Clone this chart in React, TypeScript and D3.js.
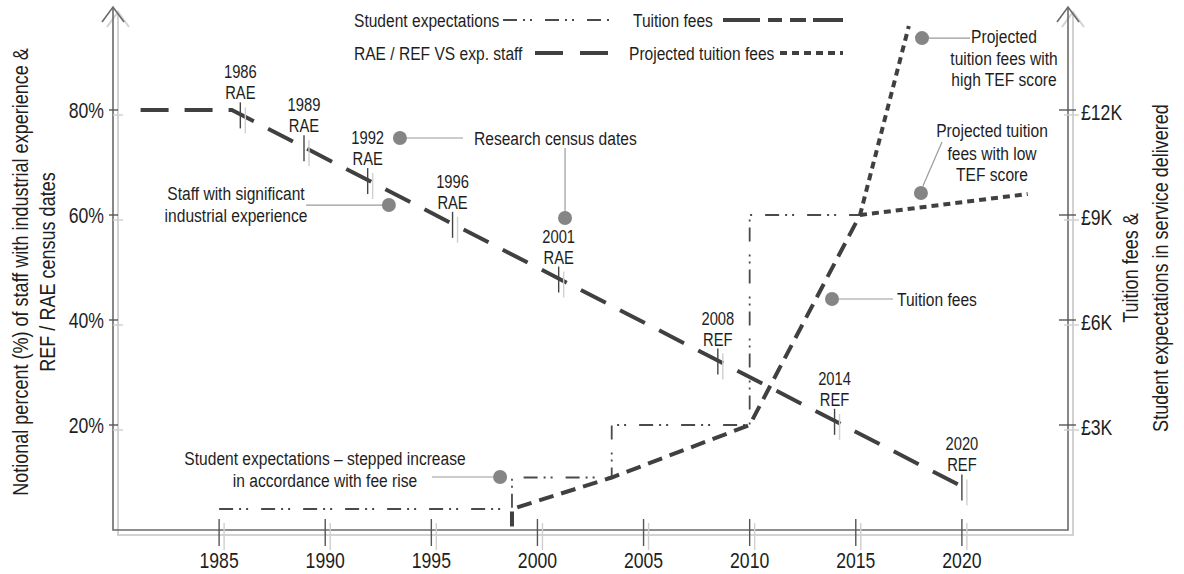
import React, { useEffect, useRef } from 'react';
import * as d3 from 'd3';

// staff with industrial experience (% of staff)
const staffYears = [1981.3, 1985.6, 2019.9];
const staffPct = [80, 80, 8.5];

// tuition fees (£)
const tuitionYears = [1998.8, 1998.8, 2003.5, 2010, 2015.2];
const tuitionFees = [100, 600, 1500, 3000, 9000];

// projected tuition fees (£)
const highTefYears = [2015.2, 2017.5];
const highTefFees = [9000, 14400];
const lowTefYears = [2015.2, 2023.1];
const lowTefFees = [9000, 9600];

// student expectations (stepped, £ equivalent)
const expectYears = [1985, 1998.8, 2003.5, 2010, 2015.2];
const expectFees = [600, 1500, 3000, 9000, 9000];

// research census dates
const censusYears = [1986, 1989, 1992, 1996, 2001, 2008.5, 2014, 2020];
const censusNames = ['1986', '1989', '1992', '1996', '2001', '2008', '2014', '2020'];
const censusKinds = ['RAE', 'RAE', 'RAE', 'RAE', 'RAE', 'REF', 'REF', 'REF'];

const yearTicks = [1985, 1990, 1995, 2000, 2005, 2010, 2015, 2020];
const pctTicks = [20, 40, 60, 80];
const feeTicks = [3000, 6000, 9000, 12000];
const feeLabels = ['£3K', '£6K', '£9K', '£12K'];

const FONT = '"Liberation Sans", Arial, sans-serif';
const NARROW = 0.82; // squeeze Liberation Sans to look like Arial Narrow
const INK = '#1e1e1e';
const LINE = '#404040';
const DOT = '#858585';
const LEAD = '#9a9a9a';

const STAFF_DASH = '28,16';
const FEE_DASH = '15,8';
const PROJ_DASH = '7,5';
const EXP_DASH = '14,6,2,5,2,13';

const App: React.FC = () => {
  const ref = useRef<SVGSVGElement>(null);

  useEffect(() => {
    if (!ref.current) return;
    const svg = d3.select(ref.current);
    svg.selectAll('*').remove();

    const x = d3.scaleLinear().domain([1980, 2025]).range([113, 1068]);
    const yPct = d3.scaleLinear().domain([0, 100]).range([530, 5]);
    const yFee = d3.scaleLinear().domain([0, 15000]).range([530, 5]);
    const x0 = x(1980), x1 = x(2025), yb = yPct(0), yt = 7;

    // narrow text block: lines placed at y offsets relative to (tx, ty)
    const text = (tx: number, ty: number, lines: string[], size: number, offs: number[],
      anchor = 'start', rotate = '', dy = '0') => {
      const t = svg.append('text')
        .attr('transform', `translate(${tx},${ty})${rotate} scale(${NARROW},1)`)
        .attr('text-anchor', anchor).style('font-family', FONT)
        .style('font-size', `${size}px`).attr('fill', INK);
      lines.forEach((l, i) => t.append('tspan').attr('x', 0).attr('y', offs[i]).attr('dy', dy).text(l));
      return t;
    };

    // frame + arrows (light shadow first, then dark)
    const frame = (dx: number, dy: number, color: string, w: number) => {
      const g = svg.append('g').attr('fill', 'none').attr('stroke', color).attr('stroke-width', w);
      g.append('path').attr('d', `M${x0 + dx},${yt + dy}V${yb + dy}H${x1 + dx}V${yt + dy}`);
      [x0, x1].forEach(ax => {
        g.append('path').attr('d', `M${ax + dx - 11},${yt + dy + 15}L${ax + dx},${yt + dy}L${ax + dx + 11},${yt + dy + 15}`);
      });
    };
    frame(5, 5, '#d2d2d2', 2);
    frame(0, 0, '#6a6a6a', 1.6);

    // x ticks
    yearTicks.forEach(t => {
      svg.append('line').attr('x1', x(t) + 5).attr('x2', x(t) + 5).attr('y1', yb - 7).attr('y2', yb + 20)
        .attr('stroke', '#cfcfcf').attr('stroke-width', 1.4);
      svg.append('line').attr('x1', x(t)).attr('x2', x(t)).attr('y1', yb - 11).attr('y2', yb + 16)
        .attr('stroke', '#555').attr('stroke-width', 1.4);
      text(x(t), 568, [String(t)], 21.5, [0], 'middle');
    });

    // left ticks
    pctTicks.forEach(t => {
      svg.append('line').attr('x1', x0).attr('x2', x0 + 10).attr('y1', yPct(t) + 5).attr('y2', yPct(t) + 5)
        .attr('stroke', '#cfcfcf').attr('stroke-width', 1.4);
      svg.append('line').attr('x1', x0 - 4).attr('x2', x0 + 5).attr('y1', yPct(t)).attr('y2', yPct(t))
        .attr('stroke', '#555').attr('stroke-width', 1.4);
      text(x0 - 9, yPct(t), [`${t}%`], 21.5, [0], 'end', '', '0.36em');
    });

    // right ticks
    feeTicks.forEach((t, i) => {
      svg.append('line').attr('x1', x1 - 4).attr('x2', x1 + 11).attr('y1', yFee(t) + 5).attr('y2', yFee(t) + 5)
        .attr('stroke', '#cfcfcf').attr('stroke-width', 1.4);
      svg.append('line').attr('x1', x1 - 9).attr('x2', x1 + 8).attr('y1', yFee(t)).attr('y2', yFee(t))
        .attr('stroke', '#555').attr('stroke-width', 1.4);
      text(x1 + 13, yFee(t) + 2, [feeLabels[i]], 21.5, [0], 'start', '', '0.36em');
    });

    // axis titles
    text(28, 272, ['Notional percent (%) of staff with industrial experience &', 'REF / RAE census dates'],
      22, [0, 27], 'middle', ' rotate(-90)');
    text(1138, 268, ['Tuition fees &', 'Student expectations in service delivered'],
      22, [0, 30], 'middle', ' rotate(-90)');

    // series
    const pts = (xs: number[], ys: number[]) => xs.map((v, i) => [v, ys[i]] as [number, number]);
    const pctLine = d3.line<[number, number]>().x(d => x(d[0])).y(d => yPct(d[1]));
    const feeLine = d3.line<[number, number]>().x(d => x(d[0])).y(d => yFee(d[1]));
    const stepLine = d3.line<[number, number]>().x(d => x(d[0])).y(d => yFee(d[1])).curve(d3.curveStepAfter);

    const draw = (d: string | null, w: number, dash: string, color = LINE) =>
      svg.append('path').attr('d', d).attr('fill', 'none').attr('stroke', color)
        .attr('stroke-width', w).attr('stroke-dasharray', dash);

    draw(stepLine(pts(expectYears, expectFees)), 1.8, EXP_DASH, '#4a4a4a');
    draw(pctLine(pts(staffYears, staffPct)), 4, STAFF_DASH);
    draw(feeLine(pts(tuitionYears, tuitionFees)), 4, FEE_DASH);
    draw(feeLine(pts(highTefYears, highTefFees)), 4, PROJ_DASH);
    draw(feeLine(pts(lowTefYears, lowTefFees)), 4, PROJ_DASH);

    // census markers
    const staffAt = d3.scaleLinear().domain(staffYears).range(staffPct);
    censusYears.forEach((yr, i) => {
      const cx = x(yr), cy = yPct(staffAt(yr));
      svg.append('line').attr('x1', cx + 5).attr('x2', cx + 5).attr('y1', cy - 7).attr('y2', cy + 19)
        .attr('stroke', '#cfcfcf').attr('stroke-width', 1.4);
      svg.append('line').attr('x1', cx).attr('x2', cx).attr('y1', cy - 12).attr('y2', cy + 14)
        .attr('stroke', '#444').attr('stroke-width', 1.4);
      text(cx, cy - 36, [censusNames[i], censusKinds[i]], 18, [0, 21], 'middle');
    });

    // annotations
    const lead = (ax: number, ay: number, bx: number, by: number) =>
      svg.append('line').attr('x1', ax).attr('y1', ay).attr('x2', bx).attr('y2', by)
        .attr('stroke', LEAD).attr('stroke-width', 1.2);
    const dot = (cx: number, cy: number) =>
      svg.append('circle').attr('cx', cx).attr('cy', cy).attr('r', 7).attr('fill', DOT);

    // research census dates
    const rc1 = [x(1993.52), yPct(74.67)], rc2 = [x(2001.3), yPct(59.43)];
    lead(rc1[0], rc1[1], 463, rc1[1]);
    lead(rc2[0], 148, rc2[0], rc2[1]);
    dot(rc1[0], rc1[1]); dot(rc2[0], rc2[1]);
    text(474, rc1[1] + 7, ['Research census dates'], 19, [0]);

    // staff
    const sf = [x(1993.0), yPct(61.9)];
    lead(306, sf[1], sf[0], sf[1]);
    dot(sf[0], sf[1]);
    text(236, 200, ['Staff with significant', 'industrial experience'], 19, [0, 22], 'middle');

    // student expectations
    const se = [x(1998.24), yPct(10.1)];
    lead(432, se[1], se[0], se[1]);
    dot(se[0], se[1]);
    text(325, 465, ['Student expectations – stepped increase', 'in accordance with fee rise'], 19, [0, 22], 'middle');

    // tuition fees
    const tf = [x(2013.88), yPct(44.0)];
    lead(tf[0], tf[1], 893, tf[1]);
    dot(tf[0], tf[1]);
    text(897, tf[1] + 7, ['Tuition fees'], 19, [0]);

    // high TEF
    const ht = [x(2018.12), yPct(93.7)];
    lead(ht[0], ht[1], 970, ht[1]);
    dot(ht[0], ht[1]);
    text(1004, 43, ['Projected', 'tuition fees with', 'high TEF score'], 19, [0, 22, 43], 'middle');

    // low TEF
    const lt = [x(2018.07), yPct(64.2)];
    lead(lt[0] + 2, lt[1] - 7, 942, 142);
    dot(lt[0], lt[1]);
    text(992, 137, ['Projected tuition', 'fees with low', 'TEF score'], 19, [0, 23, 44], 'middle');

    // legend
    const leg = (tx: number, ty: number, label: string, lx0: number, lx1: number, w: number, dash: string, color = LINE) => {
      text(tx, ty, [label], 19, [0], 'start', '', '0.36em');
      svg.append('line').attr('x1', lx0).attr('x2', lx1).attr('y1', ty).attr('y2', ty)
        .attr('stroke', color).attr('stroke-width', w).attr('stroke-dasharray', dash);
    };
    leg(354, 20, 'Student expectations', 503, 610, 1.8, EXP_DASH, '#4a4a4a');
    leg(633, 20, 'Tuition fees', 723, 843, 4, '37,8,14,8,16,7,30');
    leg(354, 53, 'RAE / REF VS exp. staff', 535, 608, 4, '28,17');
    leg(629, 53, 'Projected tuition fees', 780, 843, 4, PROJ_DASH);
  }, []);

  return (
    <svg ref={ref} width={1184} height={574}
      style={{ position: 'absolute', left: 0, top: 0, display: 'block', background: '#fff' }} />
  );
};

export default App;
